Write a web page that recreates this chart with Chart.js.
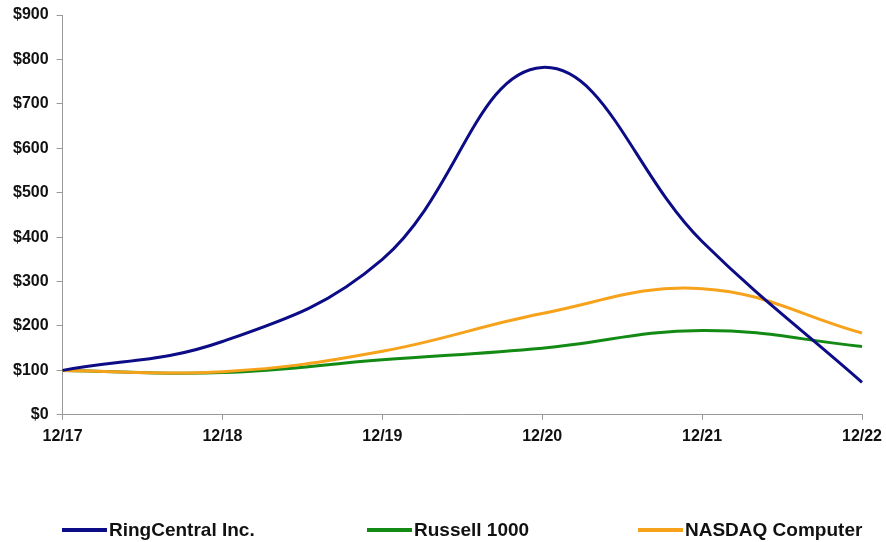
<!DOCTYPE html>
<html>
<head>
<meta charset="utf-8">
<script src="https://cdn.jsdelivr.net/npm/chart.js@4"></script>
<style>
  html, body { margin: 0; padding: 0; background: #fff; }
  #wrap { position: relative; width: 886px; height: 542px; }
  #legend { position: absolute; left: 0; top: 519px; width: 886px; height: 24px; font-family: "Liberation Sans", Arial, sans-serif; font-weight: bold; font-size: 19px; color: #111; }
  .item { position: absolute; top: 0; display: flex; align-items: center; height: 22px; }
  .swatch { width: 45px; height: 4px; margin-right: 2px; }
</style>
</head>
<body>
<div id="wrap">
  <canvas id="c" width="886" height="542"></canvas>
  <div id="legend"></div>
</div>
<script>
const categories = ["12/17", "12/18", "12/19", "12/20", "12/21", "12/22"];
const ringCentral = [100, 165, 350, 782, 390, 73];
const russell1000 = [100, 95, 124, 150, 190, 154];
const nasdaqComputer = [100, 97, 143, 228, 284, 184];
const seriesNames = ["RingCentral Inc.", "Russell 1000", "NASDAQ Computer"];
const seriesColors = ["#0c0c86", "#138a13", "#f7a21b"];
const yTicks = { min: 0, max: 900, step: 100 };
const legendLefts = [62, 367, 638];

const allSeries = [ringCentral, russell1000, nasdaqComputer];
const datasets = allSeries.map((d, i) => ({
  label: seriesNames[i],
  data: d,
  borderColor: seriesColors[i],
  backgroundColor: seriesColors[i],
  borderWidth: 3,
  pointRadius: 0,
  tension: 0.4,
  fill: false
}));
datasets.forEach((ds, i) => { ds.order = i === 0 ? 0 : (i === 1 ? 2 : 1); });

const tickFont = { family: "'Liberation Sans', Arial, sans-serif", size: 16, weight: 'bold' };

new Chart(document.getElementById('c'), {
  type: 'line',
  data: { labels: categories, datasets },
  options: {
    responsive: false,
    animation: false,
    layout: { padding: { left: 5, right: 24, top: 15, bottom: 89 } },
    plugins: { legend: { display: false }, tooltip: { enabled: false } },
    scales: {
      x: {
        offset: false,
        afterFit: s => { s.paddingRight = 0; s.paddingLeft = 0; },
        grid: { display: true, drawOnChartArea: false, drawTicks: true, tickLength: 5, color: '#999' },
        border: { color: '#999', width: 1 },
        ticks: { color: '#111', font: tickFont, padding: 7, maxRotation: 0, autoSkip: false }
      },
      y: {
        min: yTicks.min, max: yTicks.max,
        afterFit: s => { s.paddingTop = 0; },
        grid: { display: true, drawOnChartArea: false, drawTicks: true, tickLength: 6, color: '#999' },
        border: { color: '#999', width: 1 },
        ticks: { stepSize: yTicks.step, color: '#111', font: tickFont, padding: 8, callback: v => '$' + v }
      }
    }
  }
});

const legend = document.getElementById('legend');
seriesNames.forEach((name, i) => {
  const item = document.createElement('div');
  item.className = 'item';
  item.style.left = legendLefts[i] + 'px';
  const sw = document.createElement('div');
  sw.className = 'swatch';
  sw.style.background = seriesColors[i];
  const t = document.createElement('span');
  t.textContent = name;
  item.appendChild(sw);
  item.appendChild(t);
  legend.appendChild(item);
});
</script>
</body>
</html>
